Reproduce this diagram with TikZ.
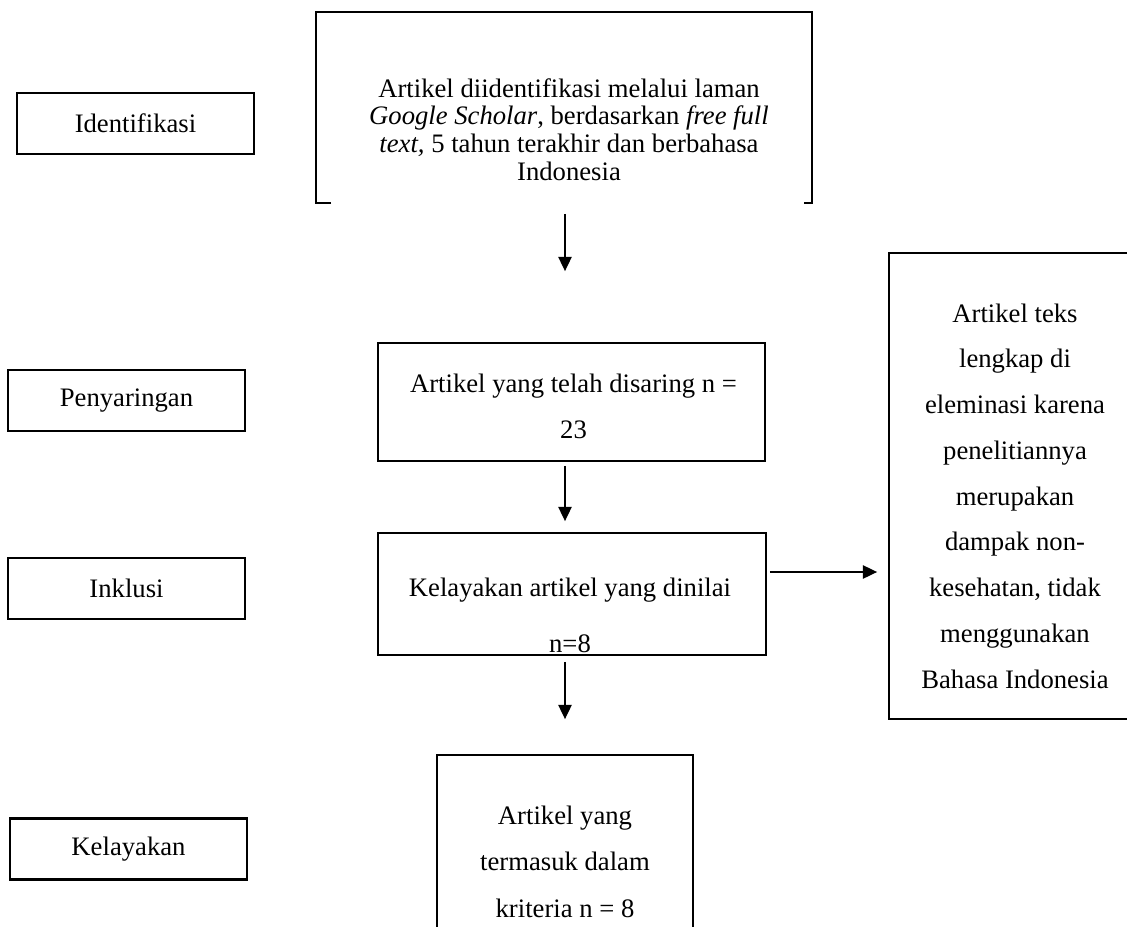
\documentclass[tikz,border=0pt]{standalone}
\usepackage{fontspec}
\setmainfont{Liberation Serif}
\usetikzlibrary{arrows.meta,calc,positioning}

\begin{document}
\begin{tikzpicture}[
  x=0.6pt, y=-0.6pt,
  stagebox/.style={draw=black, line width=1.5pt, minimum width=142.2pt,
                   minimum height=36.6pt, inner sep=0pt,
                   font=\fontsize{16}{18}\selectfont},
  flowbox/.style={draw=black, line width=1.1pt, inner sep=0pt},
  flowtext/.style={align=center, inner sep=0pt},
  flow/.style={-{Triangle[length=8.5pt,width=8pt]}, line width=0.8pt}
]
  \useasboundingbox (0,0) rectangle (1127,926);

  % stage labels on the left
  \node[stagebox] (identstage) at (135.5,123.5) {Identifikasi};
  \node[stagebox] (screenstage) at (126.5,400.5) {Penyaringan};
  \node[stagebox] (inclstage) at (126.5,588.5) {Inklusi};
  \node[stagebox] (eligstage) at (128.5,849) {Kelayakan};

  % flow boxes
  \node[flowbox, draw=none, minimum width=296.4pt, minimum height=113.4pt]
    (identbox) at (564,107.5) {};
  \draw[line width=1.1pt] ([xshift=9pt]identbox.south west) -- (identbox.south west)
    -- (identbox.north west) -- (identbox.north east) -- (identbox.south east)
    -- ([xshift=-4.8pt]identbox.south east);
  \node[flowtext, font=\fontsize{16}{16.6}\selectfont] (identtext) at (569,129.5)
    {Artikel diidentifikasi melalui laman\\
     \textit{Google Scholar}, berdasarkan \textit{free full}\\
     \textit{text,} 5 tahun terakhir dan berbahasa\\
     Indonesia};

  \node[flowbox, minimum width=232.2pt, minimum height=70.8pt]
    (screenbox) at (571.5,402) {};
  \node[flowtext, font=\fontsize{16}{27.6}\selectfont] (screentext) at (573.5,406)
    {Artikel yang telah disaring n =\\ 23};

  \node[flowbox, minimum width=232.8pt, minimum height=73.2pt]
    (eligbox) at (572,594) {};
  \node[flowtext, font=\fontsize{16}{33.6}\selectfont] (eligtext) at (570,615)
    {Kelayakan artikel yang dinilai\\ n=8};

  \node[flowbox, minimum width=153.6pt, minimum height=279.6pt]
    (exclbox) at (1017,486) {};
  \node[flowtext, font=\fontsize{16}{27.45}\selectfont] (excltext) at (1015,496)
    {Artikel teks\\ lengkap di\\ eleminasi karena\\ penelitiannya\\ merupakan\\
     dampak non-\\ kesehatan, tidak\\ menggunakan\\ Bahasa Indonesia};

  \node[flowbox, minimum width=153.6pt, minimum height=123pt]
    (critbox) at (565,857.5) {};
  \node[flowtext, font=\fontsize{16}{27.9}\selectfont] (crittext) at (565,861.5)
    {Artikel yang\\ termasuk dalam\\ kriteria n = 8};

  % connectors
  \draw[flow, shorten <=6.6pt, shorten >=42.6pt]
    (identbox.south -| critbox.north) -- (screenbox.north -| critbox.north);
  \draw[flow, shorten <=2.4pt, shorten >=6.6pt]
    (screenbox.south -| critbox.north) -- (eligbox.north -| critbox.north);
  \draw[flow, shorten <=1.8pt, shorten >=6.6pt]
    ([yshift=13.2pt]eligbox.east) -- ([yshift=13.2pt]eligbox.east -| exclbox.west);
  \draw[flow, shorten <=3.6pt, shorten >=21pt]
    (eligbox.south -| critbox.north) -- (critbox.north);
\end{tikzpicture}
\end{document}
